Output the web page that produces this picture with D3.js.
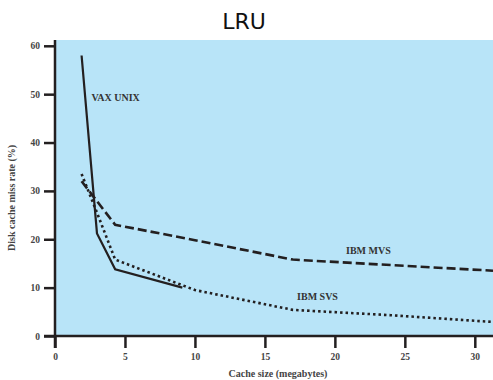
<!DOCTYPE html>
<html>
<head>
<meta charset="utf-8">
<script src="https://cdn.jsdelivr.net/npm/d3@7"></script>
<style>
  body { margin: 0; background: #fff; }
  .axis text { font-family: 'Liberation Serif', 'DejaVu Serif', serif; font-size: 9.5px; font-weight: bold; fill: #444; }
</style>
</head>
<body>
<div id="chart"></div>
<script>
// data
var vaxUnix = [[1.9, 58], [3.0, 21.2], [4.3, 13.8], [9.1, 10]]
var ibmMvs = [[1.9, 32], [4.3, 23], [10, 19.8], [17, 15.8], [25, 14.5], [31.3, 13.5]]
var ibmSvs = [[1.9, 33.5], [3.0, 25.5], [4.3, 15.8], [10, 9.5], [17, 5.4], [24, 4.3], [31.3, 2.9]]
var xTicks = [0, 5, 10, 15, 20, 25, 30]
var yTicks = [0, 10, 20, 30, 40, 50, 60]

var width = 493
var height = 380
var margin = { top: 40, bottom: 44, left: 55, right: 0 }

var svg = d3.select('#chart')
  .append('svg')
  .attr('width', width)
  .attr('height', height)

// title
svg.append('text')
  .attr('x', 244)
  .attr('y', 29)
  .attr('text-anchor', 'middle')
  .attr('font-family', 'DejaVu Sans, sans-serif')
  .attr('font-size', 22)
  .attr('fill', '#111')
  .text('LRU')

var x = d3.scaleLinear()
  .domain([0, 31.3])
  .range([margin.left, width - margin.right])

var y = d3.scaleLinear()
  .domain([0, 61.2])
  .range([height - margin.bottom, margin.top])

// plot background
svg.append('rect')
  .attr('x', x(0))
  .attr('y', y(61.2))
  .attr('width', x(31.3) - x(0))
  .attr('height', y(0) - y(61.2))
  .attr('fill', '#b8e4f8')

var line = d3.line().x(d => x(d[0])).y(d => y(d[1]))

svg.append('path')
  .datum(vaxUnix)
  .attr('d', line)
  .attr('fill', 'none')
  .attr('stroke', '#231f20')
  .attr('stroke-width', 2.2)

svg.append('path')
  .datum(ibmMvs)
  .attr('d', line)
  .attr('fill', 'none')
  .attr('stroke', '#231f20')
  .attr('stroke-width', 2.6)
  .attr('stroke-dasharray', '9,4')

svg.append('path')
  .datum(ibmSvs)
  .attr('d', line)
  .attr('fill', 'none')
  .attr('stroke', '#231f20')
  .attr('stroke-width', 2.6)
  .attr('stroke-dasharray', '2.5,3')

// series labels
var labels = [
  { t: 'VAX UNIX', px: 2.6, py: 48.5 },
  { t: 'IBM MVS', px: 20.8, py: 17.0 },
  { t: 'IBM SVS', px: 17.3, py: 7.5 }
]
svg.selectAll('.series-label')
  .data(labels)
  .enter()
  .append('text')
  .attr('class', 'series-label')
  .attr('x', d => x(d.px))
  .attr('y', d => y(d.py))
  .attr('font-family', 'Liberation Serif, serif')
  .attr('font-size', 10)
  .attr('font-weight', 'bold')
  .attr('fill', '#333')
  .text(d => d.t)

// axes
var xAxis = svg.append('g')
  .attr('class', 'axis')
  .attr('transform', 'translate(0,' + y(0) + ')')
  .call(d3.axisBottom(x).tickValues(xTicks).tickSize(12).tickPadding(5).tickFormat(d3.format('d')))

var yAxis = svg.append('g')
  .attr('class', 'axis')
  .attr('transform', 'translate(' + x(0) + ',0)')
  .call(d3.axisLeft(y).tickValues(yTicks).tickSize(11).tickPadding(4).tickFormat(d3.format('d')))

d3.selectAll('.axis .domain').remove()
d3.selectAll('.axis .tick line').attr('stroke', '#231f20').attr('stroke-width', 2.5)

// axis lines
svg.append('line')
  .attr('x1', x(0)).attr('x2', x(0))
  .attr('y1', y(61.2)).attr('y2', y(0) + 12)
  .attr('stroke', '#231f20').attr('stroke-width', 2.5)
svg.append('line')
  .attr('x1', x(0) - 11).attr('x2', width)
  .attr('y1', y(0)).attr('y2', y(0))
  .attr('stroke', '#231f20').attr('stroke-width', 2.5)

// axis titles
svg.append('text')
  .attr('transform', 'translate(15,' + (y(30) + 7) + ') rotate(-90)')
  .attr('text-anchor', 'middle')
  .attr('font-family', 'Liberation Serif, serif')
  .attr('font-size', 10)
  .attr('font-weight', 'bold')
  .attr('fill', '#444')
  .text('Disk cache miss rate (%)')

svg.append('text')
  .attr('x', 278)
  .attr('y', 377)
  .attr('text-anchor', 'middle')
  .attr('font-family', 'Liberation Serif, serif')
  .attr('font-size', 10)
  .attr('font-weight', 'bold')
  .attr('fill', '#444')
  .text('Cache size (megabytes)')
</script>
</body>
</html>
